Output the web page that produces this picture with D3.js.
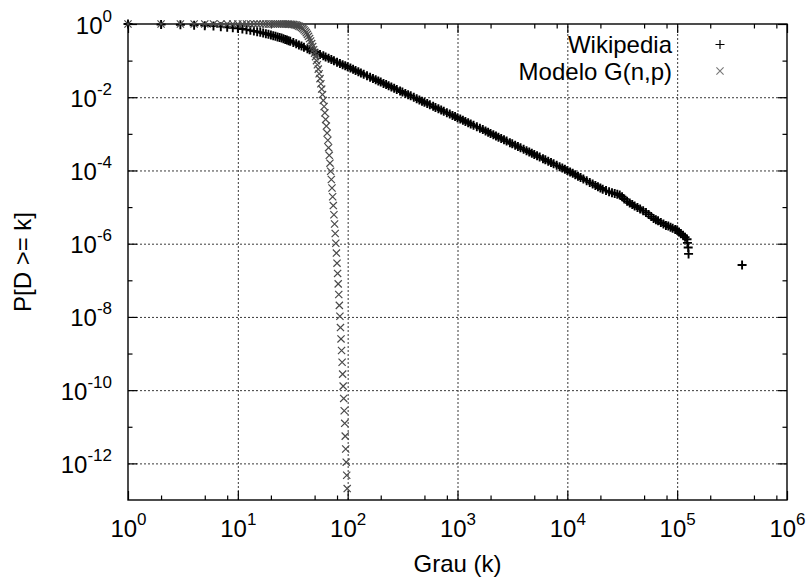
<!DOCTYPE html>
<html>
<head>
<meta charset="utf-8">
<script src="https://cdn.jsdelivr.net/npm/d3@7"></script>
<style>
  html, body { margin: 0; padding: 0; background: #fff; }
  svg { display: block; }
  text { font-family: "Liberation Sans", Arial, sans-serif; fill: #000; }
</style>
</head>
<body>
<svg id="chart" width="806" height="581"></svg>
<script>
// ---------------- data ----------------
const xTickExponents = [0, 1, 2, 3, 4, 5, 6];
const yTickExponents = [0, -2, -4, -6, -8, -10, -12];
const xMinorMantissas = [2, 5, 8];
const yMinorExponents = [-1, -3, -5, -7, -9, -11];

const seriesNames = ["Wikipedia", "Modelo G(n,p)"];
const xTitle = "Grau (k)";
const yTitle = "P[D >= k]";

// Wikipedia: [degree k, P[D >= k]]
const wikipediaPoints = [
  [1,1],[2,0.973],[3,0.951],[4,0.927],[5,0.902],[6,0.875],[7,0.847],[8,0.818],[9,0.791],[10,0.762],
  [11,0.729],[12,0.700],[13,0.671],[14,0.643],[15,0.617],[16,0.592],[17,0.568],[18,0.543],[19,0.521],[20,0.501],
  [21,0.481],[22,0.462],[23,0.445],[24,0.429],[25,0.412],[26,0.396],[27,0.380],[28,0.366],[29,0.351],[30,0.337],
  [32,0.311],[34,0.288],[36,0.267],[38,0.249],[40,0.233],[43,0.211],[45,0.199],[48,0.182],[50,0.172],[53,0.159],
  [56,0.148],[60,0.135],[63,0.126],[67,0.116],[71,0.107],[75,0.0991],[80,0.0906],[85,0.0836],[90,0.0774],[95,0.0721],
  [100,0.0676],[106,0.0624],[112,0.0578],[118,0.0537],[125,0.0497],[132,0.0460],[140,0.0425],[150,0.0386],[160,0.0353],[170,0.0325],
  [180,0.0300],[190,0.0278],[200,0.0259],[212,0.0239],[224,0.0222],[236,0.0206],[250,0.0191],[265,0.0176],[280,0.0163],[300,0.0148],
  [315,0.0139],[335,0.0127],[355,0.0117],[375,0.0109],[400,0.00993],[425,0.00914],[450,0.00843],[475,0.00780],[500,0.00726],[530,0.00670],
  [560,0.00621],[600,0.00564],[630,0.00526],[670,0.00483],[710,0.00446],[750,0.00412],[800,0.00377],[850,0.00346],[900,0.00319],[950,0.00296],
  [1000,0.00275],[1060,0.00254],[1120,0.00235],[1180,0.00218],[1250,0.00201],[1320,0.00187],[1400,0.00172],[1500,0.00156],[1600,0.00143],[1700,0.00131],
  [1800,0.00120],[1900,0.00111],[2000,0.00103],[2120,9.48e-4],[2240,8.75e-4],[2360,8.11e-4],[2500,7.46e-4],[2650,6.87e-4],[2800,6.34e-4],[3000,5.73e-4],
  [3150,5.35e-4],[3350,4.89e-4],[3550,4.49e-4],[3750,4.15e-4],[4000,3.78e-4],[4250,3.46e-4],[4500,3.18e-4],[4750,2.94e-4],[5000,2.73e-4],[5300,2.51e-4],
  [5600,2.32e-4],[6000,2.10e-4],[6300,1.95e-4],[6700,1.79e-4],[7100,1.64e-4],[7500,1.52e-4],[8000,1.38e-4],[8500,1.27e-4],[9000,1.17e-4],[9500,1.08e-4],
  [10000,1.0e-4],[10600,9.12e-5],[11200,8.35e-5],[11800,7.67e-5],[12500,7.00e-5],[13200,6.40e-5],[14000,5.84e-5],[15000,5.22e-5],[16000,4.72e-5],[17000,4.29e-5],
  [18000,3.91e-5],[19000,3.58e-5],[20000,3.31e-5],[21000,3.09e-5],[22500,2.82e-5],[24000,2.63e-5],[25500,2.45e-5],[27000,2.34e-5],[28500,2.24e-5],[30000,2.14e-5],
  [31500,1.91e-5],[33000,1.66e-5],[35000,1.45e-5],[37000,1.29e-5],[39000,1.17e-5],[41000,1.07e-5],[43500,9.8e-6],[46000,8.9e-6],[49000,7.9e-6],[52000,7.1e-6],
  [55000,6.3e-6],[58000,5.5e-6],[61000,4.9e-6],[64000,4.5e-6],[67000,4.2e-6],[71000,3.8e-6],[75000,3.47e-6],[79000,3.16e-6],[83000,3.02e-6],[87000,2.82e-6],
  [91000,2.63e-6],[96000,2.45e-6],[100000,2.37e-6],[104000,2.1e-6],[108000,1.86e-6],[113000,1.70e-6],[118000,1.51e-6],[123000,1.32e-6],[124000,1.05e-6],[126000,7.9e-7],
  [127000,5.26e-7],[390000,2.63e-7]
];

// Modelo G(n,p): [degree k, P[D >= k]]
const gnpPoints = [
  [1,1],[2,1],[3,1],[4,1],[5,1],[6,1],[7,1],[8,1],[9,1],[10,1],
  [11,1],[12,1],[13,1],[14,1],[15,1],[16,1],[17,1],[18,1],[19,1],[20,1],
  [21,1],[22,1],[23,1],[24,1],[25,1],[26,0.999],[27,0.997],[28,0.995],[29,0.991],[30,0.986],
  [31,0.977],[32,0.966],[33,0.951],[34,0.932],[35,0.907],[36,0.876],[37,0.840],[38,0.798],[39,0.750],[40,0.697],
  [41,0.641],[42,0.581],[43,0.521],[44,0.460],[45,0.400],[46,0.344],[47,0.291],[48,0.242],[49,0.199],[50,0.160],
  [51,0.128],[52,0.0999],[53,0.0771],[54,0.0585],[55,0.0438],[56,0.0322],[57,0.0234],[58,0.0167],[59,0.0118],[60,8.18e-3],
  [61,5.58e-3],[62,3.75e-3],[63,2.48e-3],[64,1.63e-3],[65,1.05e-3],[66,6.68e-4],[67,4.19e-4],[68,2.59e-4],[69,1.58e-4],[70,9.51e-5],
  [71,5.65e-5],[72,3.31e-5],[73,1.92e-5],[74,1.10e-5],[75,6.19e-6],[76,3.45e-6],[77,1.90e-6],[78,1.03e-6],[79,5.55e-7],[80,2.94e-7],
  [81,1.54e-7],[82,7.98e-8],[83,4.09e-8],[84,2.07e-8],[85,1.04e-8],[86,5.12e-9],[87,2.51e-9],[88,1.21e-9],[89,5.79e-10],[90,2.74e-10],
  [91,1.29e-10],[92,5.94e-11],[93,2.73e-11],[94,1.24e-11],[95,5.55e-12],[96,2.47e-12],[97,1.08e-12],[98,4.73e-13],[99,2.05e-13]
];

// ---------------- layout ----------------
const W = 806, H = 581;
const margin = { left: 128, right: 19, top: 24, bottom: 81 };
const iw = W - margin.left - margin.right;
const ih = H - margin.top - margin.bottom;

const svg = d3.select("#chart");
svg.append("rect").attr("width", W).attr("height", H).attr("fill", "#fff");

const x = d3.scaleLog().domain([1, 1e6]).range([0, iw]);
const y = d3.scaleLog().domain([1e-13, 1]).range([ih, 0]);

const g = svg.append("g").attr("transform", `translate(${margin.left},${margin.top})`);

const xMajor = xTickExponents.map(e => Math.pow(10, e));
const yMajor = yTickExponents.map(e => Math.pow(10, e));
const xMinor = [];
for (let e = 0; e < 6; e++) xMinorMantissas.forEach(m => xMinor.push(m * Math.pow(10, e)));
const yMinor = yMinorExponents.map(e => Math.pow(10, e));

// ---------------- grid ----------------
const gridStyle = sel => {
  sel.select(".domain").remove();
  sel.selectAll(".tick line")
    .attr("stroke", "#3a3a3a").attr("stroke-width", 1)
    .attr("stroke-dasharray", "2,2");
  sel.selectAll(".tick text").remove();
};
g.append("g").attr("transform", `translate(0,${ih})`)
  .call(d3.axisBottom(x).tickValues(xMajor.slice(1, -1)).tickSize(-ih).tickFormat(""))
  .call(gridStyle);
g.append("g")
  .call(d3.axisLeft(y).tickValues(yMajor.slice(1)).tickSize(-iw).tickFormat(""))
  .call(gridStyle);

// ---------------- ticks (inward on all sides) ----------------
const tickStyle = sel => {
  sel.select(".domain").remove();
  sel.selectAll(".tick line").attr("stroke", "#000").attr("stroke-width", 1.2);
};
const MAJ = 9, MIN = 4.5;
// bottom
const xb = g.append("g").attr("transform", `translate(0,${ih})`)
  .call(d3.axisBottom(x).tickValues(xMajor).tickSize(-MAJ).tickPadding(0).tickFormat(d => ""))
  .call(tickStyle);
g.append("g").attr("transform", `translate(0,${ih})`)
  .call(d3.axisBottom(x).tickValues(xMinor).tickSize(-MIN).tickFormat(""))
  .call(tickStyle).call(s => s.selectAll("text").remove());
// top
g.append("g")
  .call(d3.axisTop(x).tickValues(xMajor).tickSize(-MAJ).tickFormat(""))
  .call(tickStyle).call(s => s.selectAll("text").remove());
g.append("g")
  .call(d3.axisTop(x).tickValues(xMinor).tickSize(-MIN).tickFormat(""))
  .call(tickStyle).call(s => s.selectAll("text").remove());
// left
const yl = g.append("g")
  .call(d3.axisLeft(y).tickValues(yMajor).tickSize(-MAJ).tickPadding(0).tickFormat(d => ""))
  .call(tickStyle);
g.append("g")
  .call(d3.axisLeft(y).tickValues(yMinor).tickSize(-MIN).tickFormat(""))
  .call(tickStyle).call(s => s.selectAll("text").remove());
// right
g.append("g").attr("transform", `translate(${iw},0)`)
  .call(d3.axisRight(y).tickValues(yMajor).tickSize(-MAJ).tickFormat(""))
  .call(tickStyle).call(s => s.selectAll("text").remove());
g.append("g").attr("transform", `translate(${iw},0)`)
  .call(d3.axisRight(y).tickValues(yMinor).tickSize(-MIN).tickFormat(""))
  .call(tickStyle).call(s => s.selectAll("text").remove());

// tick labels with superscript exponents
const labelSize = 24, supSize = 17;
xb.selectAll(".tick text").each(function(d) {
  const t = d3.select(this);
  t.text(null).attr("y", 37).attr("dy", null)
    .attr("font-size", labelSize).attr("text-anchor", "middle")
    .attr("font-family", "Liberation Sans, Arial, sans-serif");
  t.append("tspan").text("10");
  t.append("tspan").attr("dy", -12).attr("font-size", supSize).text(String(Math.round(Math.log10(d))));
});
yl.selectAll(".tick text").each(function(d) {
  const t = d3.select(this);
  t.text(null).attr("x", -16).attr("dy", 9)
    .attr("font-size", labelSize).attr("text-anchor", "end")
    .attr("font-family", "Liberation Sans, Arial, sans-serif");
  t.append("tspan").text("10");
  t.append("tspan").attr("dy", -12).attr("font-size", supSize).text(String(Math.round(Math.log10(d))));
});

// border
g.append("rect").attr("width", iw).attr("height", ih)
  .attr("fill", "none").attr("stroke", "#000").attr("stroke-width", 1.4);

// ---------------- markers ----------------
const plusPath = "M-4.5,0H4.5M0,-4.5V4.5";
const crossPath = "M-3.6,-3.6L3.6,3.6M-3.6,3.6L3.6,-3.6";
const inDomain = d => d[0] >= 1 && d[0] <= 1e6 && d[1] >= 1e-13 && d[1] <= 1;

g.append("g").selectAll("path")
  .data(wikipediaPoints.filter(inDomain))
  .join("path")
  .attr("transform", d => `translate(${x(d[0])},${y(d[1])})`)
  .attr("d", plusPath)
  .attr("fill", "none").attr("stroke", "#000").attr("stroke-width", 1.9);

g.append("g").selectAll("path")
  .data(gnpPoints.filter(inDomain))
  .join("path")
  .attr("transform", d => `translate(${x(d[0])},${y(d[1])})`)
  .attr("d", crossPath)
  .attr("fill", "none").attr("stroke", "#4a4a4a").attr("stroke-width", 1.2);

// ---------------- legend ----------------
const legend = svg.append("g");
const legendRows = [
  { name: seriesNames[0], path: plusPath, color: "#000", sw: 1.2, base: 53, mid: 44.5 },
  { name: seriesNames[1], path: crossPath, color: "#777", sw: 1.1, base: 80, mid: 71 }
];
legendRows.forEach(r => {
  legend.append("text").attr("x", 672).attr("y", r.base)
    .attr("text-anchor", "end").attr("font-size", 24).text(r.name);
  legend.append("path").attr("transform", `translate(720,${r.mid})`)
    .attr("d", r.path).attr("fill", "none").attr("stroke", r.color).attr("stroke-width", r.sw);
});

// ---------------- axis titles ----------------
svg.append("text").attr("x", margin.left + iw / 2).attr("y", 572)
  .attr("text-anchor", "middle").attr("font-size", 24).text(xTitle);
svg.append("text").attr("transform", `translate(31,${margin.top + ih / 2}) rotate(-90)`)
  .attr("text-anchor", "middle").attr("font-size", 24).text(yTitle);
</script>
</body>
</html>
